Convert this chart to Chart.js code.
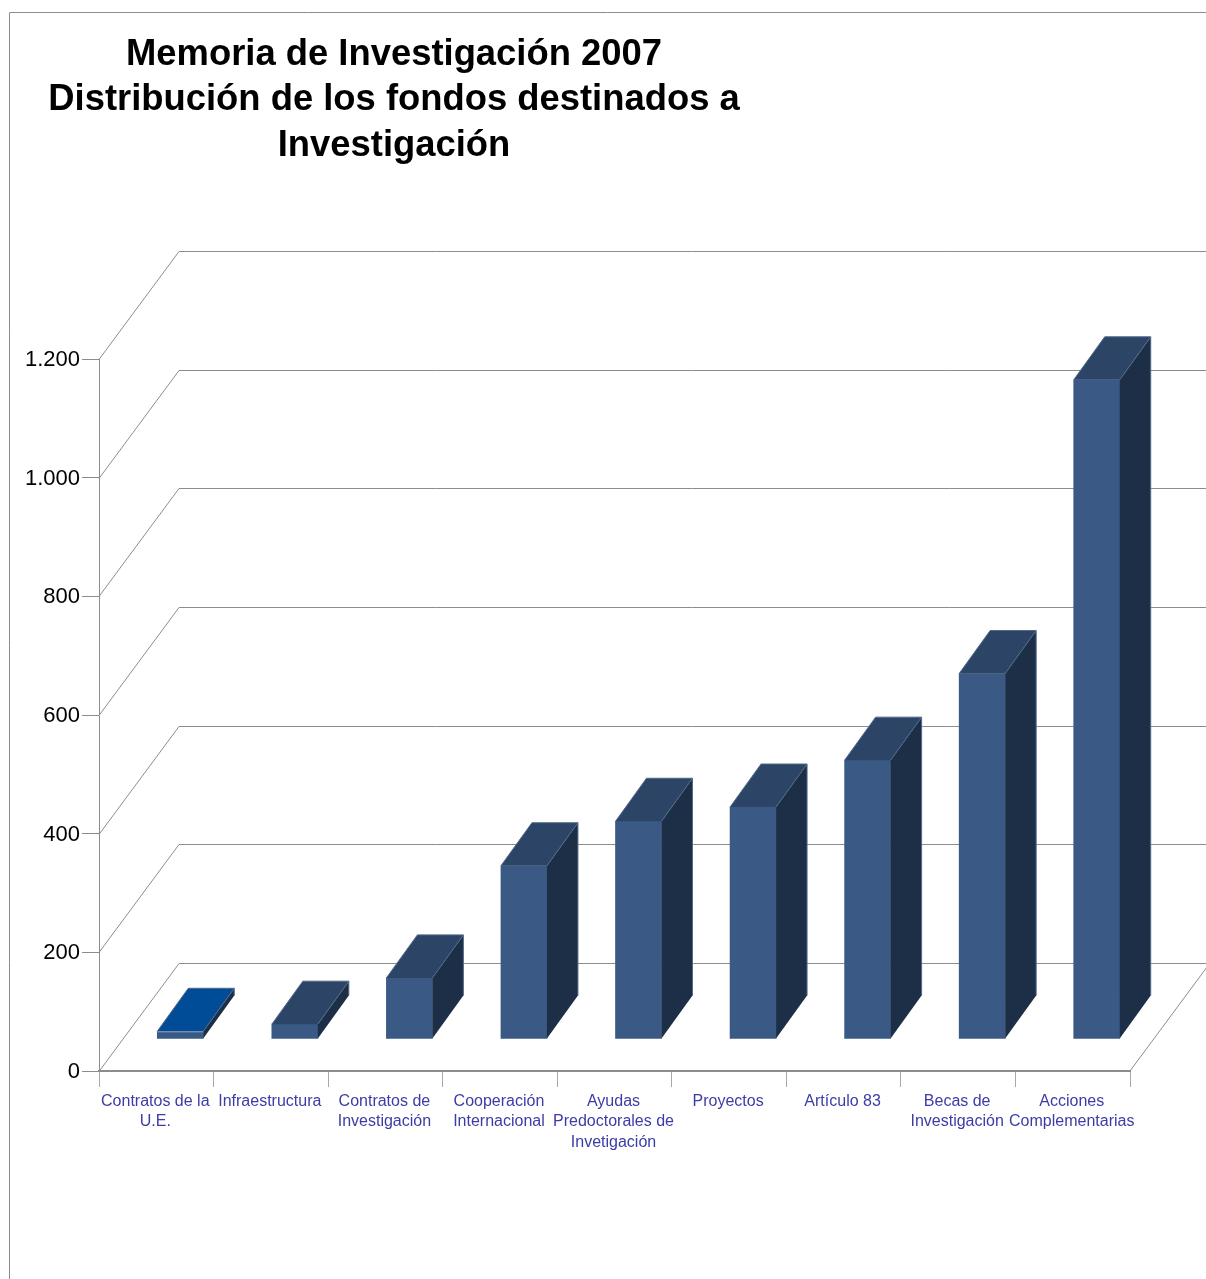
<!DOCTYPE html>
<html>
<head>
<meta charset="utf-8">
<title>Memoria de Investigación 2007</title>
<script src="https://cdn.jsdelivr.net/npm/chart.js@4/dist/chart.umd.min.js"></script>
<style>
  html, body { margin: 0; padding: 0; background: #fff; overflow: hidden; }
  canvas { display: block; }
</style>
</head>
<body>
<canvas id="myChart" width="1206" height="1279"></canvas>
<script>
const categories = [
    ["Contratos de la", "U.E."],
    "Infraestructura",
    ["Contratos de", "Investigación"],
    ["Cooperación", "Internacional"],
    ["Ayudas", "Predoctorales de", "Invetigación"],
    "Proyectos",
    "Artículo 83",
    ["Becas de", "Investigación"],
    ["Acciones", "Complementarias"]
];
const fondos = [13, 25, 103, 292, 367, 391, 470, 616, 1111];
const titleLines = ["Memoria de Investigación 2007", "Distribución de los fondos destinados a", "Investigación"];
const yTicks = [0, 200, 400, 600, 800, 1000, 1200];

const frontColor = '#3a5a85';
const topColors = ['#014c96', '#2c4566', '#2c4566', '#2c4566', '#2c4566', '#2c4566', '#2c4566', '#2c4566', '#2c4566'];
const sideColor = '#1c2f47';
const edgeColor = '#52698a';
const gridColor = '#8c8c8c';

// depth of the floor and where the bars sit on it
const wallDx = 80, wallDy = -108;
const barDx = 24, barDy = -32;
const depthDx = 31, depthDy = -43;

function poly(ctx, pts, fill) {
    ctx.beginPath();
    ctx.moveTo(pts[0][0], pts[0][1]);
    for (let i = 1; i < pts.length; i++) ctx.lineTo(pts[i][0], pts[i][1]);
    ctx.closePath();
    ctx.fillStyle = fill;
    ctx.fill();
}

const box3d = {
    id: 'box3d',
    afterLayout(chart) {
        // the title is centred over the left part of the picture
        chart.titleBlock.left = 0;
        chart.titleBlock.right = 788;
    },
    beforeDraw(chart) {
        const ctx = chart.ctx;
        ctx.save();
        ctx.strokeStyle = gridColor;
        ctx.lineWidth = 1;
        ctx.beginPath();
        ctx.moveTo(1206, 12.5);
        ctx.lineTo(9.5, 12.5);
        ctx.lineTo(9.5, 1279);
        ctx.stroke();
        ctx.restore();
    },
    beforeDatasetsDraw(chart) {
        const ctx = chart.ctx;
        const y = chart.scales.y;
        const area = chart.chartArea;
        ctx.save();
        ctx.strokeStyle = gridColor;
        ctx.lineWidth = 1;
        ctx.beginPath();
        yTicks.forEach(v => {
            const py = Math.round(y.getPixelForValue(v)) + 0.5;
            ctx.moveTo(area.left, py);
            ctx.lineTo(area.left + wallDx, py + wallDy);
            ctx.lineTo(1206, py + wallDy);
        });
        ctx.moveTo(area.right, area.bottom);
        ctx.lineTo(area.right + wallDx, area.bottom + wallDy);
        ctx.stroke();
        ctx.restore();
        // bars stand part way back on the floor
        ctx.save();
        ctx.translate(barDx, barDy);
    },
    afterDatasetsDraw(chart) {
        const ctx = chart.ctx;
        const meta = chart.getDatasetMeta(0);
        meta.data.forEach((bar, i) => {
            const l = bar.x - bar.width / 2, r = bar.x + bar.width / 2;
            const t = bar.y, b = bar.base;
            poly(ctx, [[l, t], [r, t], [r + depthDx, t + depthDy], [l + depthDx, t + depthDy]], topColors[i]);
            poly(ctx, [[r, t], [r + depthDx, t + depthDy], [r + depthDx, b + depthDy], [r, b]], sideColor);
            ctx.strokeStyle = edgeColor;
            ctx.lineWidth = 1;
            ctx.beginPath();
            ctx.moveTo(l, t);
            ctx.lineTo(l + depthDx, t + depthDy);
            ctx.lineTo(r + depthDx, t + depthDy);
            ctx.lineTo(r + depthDx, b + depthDy);
            ctx.moveTo(r, t);
            ctx.lineTo(r + depthDx, t + depthDy);
            ctx.stroke();
            if (i === 0) {
                ctx.strokeStyle = '#8fa6c4';
                ctx.beginPath();
                ctx.moveTo(l, t + 0.5);
                ctx.lineTo(r, t + 0.5);
                ctx.stroke();
            }
        });
        ctx.restore();
    }
};

const ctx = document.getElementById("myChart").getContext('2d');
const myChart = new Chart(ctx, {
    type: 'bar',
    plugins: [box3d],
    data: {
        labels: categories,
        datasets: [{
            data: fondos,
            backgroundColor: frontColor,
            barThickness: 46
        }]
    },
    options: {
        responsive: false,
        animation: false,
        events: [],
        layout: { padding: { left: 0, right: 76, top: 0, bottom: 0 } },
        plugins: {
            legend: { display: false },
            tooltip: { enabled: false },
            title: {
                display: true,
                text: titleLines,
                color: '#000',
                font: { family: '"Liberation Sans"', size: 36.4, weight: 'bold', lineHeight: 1.25 },
                padding: { top: 32, bottom: 190.5 }
            }
        },
        scales: {
            x: {
                afterFit(scale) { scale.height = 208; },
                grid: { drawOnChartArea: false, tickLength: 16, tickColor: '#a8a8a8', tickWidth: 1 },
                border: { color: gridColor, width: 2 },
                ticks: {
                    autoSkip: false,
                    maxRotation: 0,
                    padding: 4,
                    labelOffset: -1,
                    color: '#3c3ca6',
                    font: { family: '"Liberation Sans"', size: 16, lineHeight: 1.28 }
                }
            },
            y: {
                min: 0,
                max: 1200,
                afterFit(scale) { scale.width = 99; },
                afterBuildTicks(scale) { scale.ticks = yTicks.map(v => ({ value: v })); },
                grid: { drawOnChartArea: false, tickLength: 17, tickColor: gridColor, tickWidth: 1 },
                border: { color: gridColor, width: 1 },
                ticks: {
                    padding: 2,
                    labelOffset: 1,
                    color: '#000',
                    font: { family: '"Liberation Sans"', size: 22 },
                    callback: v => String(v).replace(/\B(?=(\d{3})+$)/g, '.')
                }
            }
        }
    }
});
</script>
</body>
</html>
